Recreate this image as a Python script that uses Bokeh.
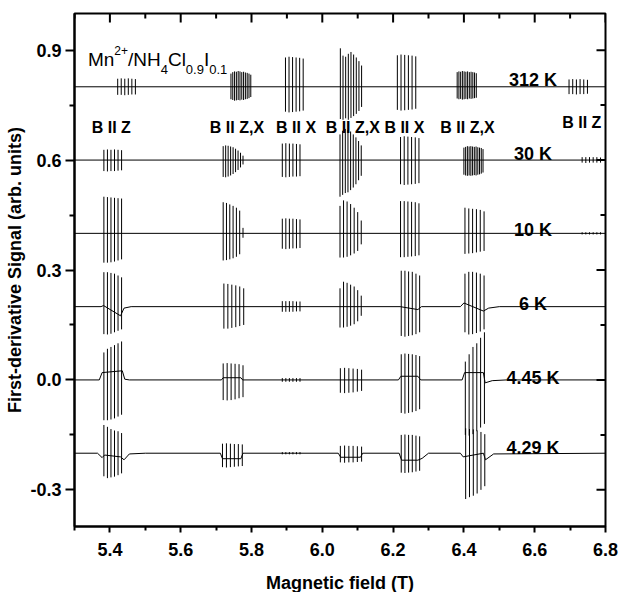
import numpy as np
from bokeh.plotting import figure
from bokeh.models import ColumnDataSource, FixedTicker, Label, PrintfTickFormatter
from bokeh.embed import file_html
from bokeh.resources import INLINE
from bokeh.core.properties import value

# ---------------- data ----------------
TEMPS = ["312 K", "30 K", "10 K", "6 K", "4.45 K", "4.29 K"]
OFFSETS = [0.8, 0.6, 0.4, 0.2, 0.0, -0.2]
ORIENT = ["B II Z", "B II Z,X", "B II X", "B II Z,X", "B II X", "B II Z,X", "B II Z"]
ORIENT_X = [5.404, 5.759, 5.926, 6.086, 6.232, 6.410, 6.733]

X_TICKS = [5.4, 5.6, 5.8, 6.0, 6.2, 6.4, 6.6, 6.8]
X_MINOR = [5.3, 5.5, 5.7, 5.9, 6.1, 6.3, 6.5, 6.7]
Y_TICKS = [-0.3, 0.0, 0.3, 0.6, 0.9]
Y_MINOR = [-0.15, 0.15, 0.45, 0.75]

# field of first hyperfine line of each group (T), per temperature
START_312 = [5.422, 5.742, 5.896, 6.051, 6.212, 6.381, 6.697]
START_30 = [5.383, 5.720, 5.887, 6.050, 6.221, 6.400, 6.734]
START_10 = [5.383, 5.720, 5.887, 6.050, 6.221, 6.403, 6.734]
START_6 = [5.383, 5.722, 5.887, 6.050, 6.223, 6.403, 6.734]
START_445 = [5.383, 5.720, 5.887, 6.051, 6.223, 6.404, 6.734]
START_429 = [5.383, 5.718, 5.887, 6.051, 6.223, 6.405, 6.734]
# width of each group of lines (T)
SPAN = [0.050, 0.056, 0.050, 0.060, 0.052, 0.054, 0.052]

# peak heights above / below each trace's baseline
UP_312 = [[0.022, 0.023, 0.022, 0.023, 0.022, 0.021],
          [0.036, 0.040, 0.042, 0.041, 0.043, 0.042, 0.040, 0.041, 0.039, 0.038, 0.036, 0.033],
          [0.080, 0.082, 0.081, 0.080, 0.079, 0.077],
          [0.105, 0.085, 0.082, 0.090, 0.095, 0.088, 0.080, 0.070, 0.058],
          [0.086, 0.088, 0.087, 0.086, 0.085, 0.083],
          [0.040, 0.042, 0.041, 0.043, 0.042, 0.041, 0.042, 0.040, 0.041, 0.040, 0.039, 0.037],
          [0.020, 0.021, 0.020, 0.021, 0.020, 0.019]]
DOWN_312 = [[0.022, 0.022, 0.023, 0.022, 0.021, 0.021],
            [0.034, 0.036, 0.038, 0.037, 0.036, 0.037, 0.035, 0.036, 0.034, 0.033, 0.031, 0.028],
            [0.068, 0.070, 0.069, 0.068, 0.067, 0.065],
            [0.088, 0.090, 0.086, 0.090, 0.085, 0.080, 0.074, 0.066, 0.055],
            [0.063, 0.065, 0.064, 0.063, 0.062, 0.060],
            [0.032, 0.034, 0.033, 0.035, 0.034, 0.033, 0.034, 0.032, 0.033, 0.032, 0.031, 0.030],
            [0.020, 0.020, 0.021, 0.020, 0.020, 0.019]]

UP_30 = [[0.028, 0.029, 0.028, 0.029, 0.028, 0.027],
         [0.038, 0.040, 0.039, 0.037, 0.035, 0.031, 0.026, 0.020, 0.012],
         [0.045, 0.046, 0.045, 0.045, 0.044, 0.043],
         [0.070, 0.080, 0.085, 0.082, 0.078, 0.070, 0.062, 0.052, 0.040],
         [0.063, 0.065, 0.064, 0.063, 0.062, 0.060],
         [0.034, 0.036, 0.038, 0.037, 0.038, 0.037, 0.036, 0.037, 0.035, 0.034, 0.033, 0.030],
         [0.008, 0.008, 0.008, 0.008, 0.008, 0.007]]
DOWN_30 = [[0.030, 0.031, 0.030, 0.030, 0.029, 0.028],
           [0.046, 0.047, 0.045, 0.042, 0.038, 0.033, 0.027, 0.020, 0.012],
           [0.046, 0.047, 0.046, 0.045, 0.045, 0.044],
           [0.100, 0.095, 0.090, 0.088, 0.082, 0.075, 0.066, 0.055, 0.043],
           [0.066, 0.068, 0.067, 0.066, 0.065, 0.063],
           [0.040, 0.042, 0.043, 0.042, 0.043, 0.042, 0.041, 0.042, 0.040, 0.039, 0.037, 0.034],
           [0.007, 0.008, 0.007, 0.007, 0.007, 0.007]]

UP_10 = [[0.100, 0.099, 0.098, 0.097, 0.096, 0.095],
         [0.085, 0.083, 0.079, 0.075, 0.070, 0.062, 0.015],
         [0.040, 0.041, 0.040, 0.040, 0.039, 0.038],
         [0.075, 0.090, 0.087, 0.080, 0.070, 0.058, 0.035],
         [0.088, 0.088, 0.087, 0.086, 0.085, 0.082],
         [0.070, 0.068, 0.067, 0.066, 0.064, 0.060],
         [0.003, 0.003, 0.003, 0.003, 0.003, 0.003]]
DOWN_10 = [[0.080, 0.080, 0.079, 0.077, 0.074, 0.071],
           [0.074, 0.073, 0.071, 0.068, 0.064, 0.057, 0.012],
           [0.042, 0.043, 0.042, 0.041, 0.041, 0.040],
           [0.066, 0.066, 0.064, 0.060, 0.055, 0.048, 0.030],
           [0.065, 0.065, 0.064, 0.063, 0.062, 0.060],
           [0.056, 0.055, 0.054, 0.052, 0.050, 0.048],
           [0.003, 0.003, 0.003, 0.003, 0.003, 0.003]]

UP_6 = [[0.094, 0.094, 0.092, 0.090, 0.085, 0.080],
        [0.063, 0.062, 0.060, 0.058, 0.055, 0.050],
        [0.015, 0.015, 0.015, 0.015, 0.014, 0.014],
        [0.050, 0.068, 0.065, 0.060, 0.055, 0.045, 0.030],
        [0.098, 0.098, 0.096, 0.095, 0.090, 0.085],
        [0.090, 0.095, 0.095, 0.093, 0.090, 0.085],
        [0.000, 0.000, 0.000, 0.000, 0.000, 0.000]]
DOWN_6 = [[0.075, 0.076, 0.074, 0.070, 0.066, 0.062],
          [0.060, 0.060, 0.058, 0.056, 0.053, 0.050],
          [0.014, 0.014, 0.014, 0.014, 0.013, 0.013],
          [0.057, 0.057, 0.055, 0.052, 0.048, 0.040, 0.025],
          [0.080, 0.082, 0.080, 0.078, 0.075, 0.070],
          [0.070, 0.076, 0.075, 0.072, 0.068, 0.062],
          [0.000, 0.000, 0.000, 0.000, 0.000, 0.000]]

UP_445 = [[0.075, 0.085, 0.090, 0.095, 0.100, 0.105],
          [0.045, 0.046, 0.045, 0.044, 0.043, 0.040],
          [0.005, 0.005, 0.005, 0.005, 0.005, 0.005],
          [0.032, 0.033, 0.032, 0.031, 0.030, 0.028],
          [0.070, 0.072, 0.071, 0.070, 0.068, 0.065],
          [0.050, 0.070, 0.090, 0.100, 0.115, 0.130],
          [0.000, 0.000, 0.000, 0.000, 0.000, 0.000]]
DOWN_445 = [[0.110, 0.110, 0.108, 0.105, 0.100, 0.095],
            [0.055, 0.056, 0.055, 0.053, 0.050, 0.047],
            [0.005, 0.005, 0.005, 0.005, 0.005, 0.005],
            [0.035, 0.036, 0.035, 0.034, 0.032, 0.030],
            [0.090, 0.092, 0.090, 0.088, 0.085, 0.080],
            [0.150, 0.152, 0.148, 0.140, 0.130, 0.120],
            [0.000, 0.000, 0.000, 0.000, 0.000, 0.000]]

UP_429 = [[0.077, 0.072, 0.066, 0.062, 0.060, 0.055],
          [0.026, 0.027, 0.026, 0.025, 0.025, 0.024],
          [0.003, 0.003, 0.003, 0.003, 0.003, 0.003],
          [0.020, 0.021, 0.020, 0.020, 0.019, 0.018],
          [0.050, 0.051, 0.050, 0.050, 0.048, 0.046],
          [0.068, 0.066, 0.065, 0.062, 0.058, 0.052],
          [0.000, 0.000, 0.000, 0.000, 0.000, 0.000]]
DOWN_429 = [[0.063, 0.068, 0.066, 0.064, 0.060, 0.055],
            [0.038, 0.039, 0.038, 0.037, 0.036, 0.035],
            [0.003, 0.003, 0.003, 0.003, 0.003, 0.003],
            [0.025, 0.026, 0.025, 0.025, 0.024, 0.023],
            [0.053, 0.054, 0.053, 0.052, 0.050, 0.048],
            [0.125, 0.120, 0.116, 0.110, 0.100, 0.090],
            [0.000, 0.000, 0.000, 0.000, 0.000, 0.000]]

# broad background under the sharp lines (field, shift from baseline)
BGX_312 = [5.30, 6.80]
BGY_312 = [0.0, 0.0]
BGX_30 = [5.30, 6.80]
BGY_30 = [0.0, 0.0]
BGX_10 = [5.30, 6.80]
BGY_10 = [0.0, 0.0]
BGX_6 = [5.30, 5.375, 5.382, 5.430, 5.440, 5.460, 6.220, 6.270, 6.280, 6.390, 6.400, 6.455, 6.470, 6.500, 6.80]
BGY_6 = [0.0, 0.0, 0.003, -0.025, -0.004, 0.0, 0.0, -0.008, 0.0, 0.0, 0.010, -0.012, -0.004, 0.0, 0.0]
BGX_445 = [5.30, 5.370, 5.378, 5.435, 5.442, 5.455, 5.715, 5.720, 5.770, 5.775,
           6.215, 6.222, 6.270, 6.278, 6.395, 6.402, 6.455, 6.460, 6.480, 6.520, 6.80]
BGY_445 = [0.0, 0.0, 0.020, 0.025, 0.002, 0.0, 0.0, 0.006, 0.006, 0.0,
           0.0, 0.010, 0.010, 0.0, 0.0, 0.020, 0.020, -0.008, -0.002, 0.0, 0.0]
BGX_429 = [5.30, 5.365, 5.378, 5.385, 5.430, 5.440, 5.455, 5.500, 5.712, 5.718, 5.770, 5.776,
           6.045, 6.052, 6.108, 6.114, 6.217, 6.224, 6.270, 6.282, 6.300, 6.390, 6.398, 6.455, 6.461, 6.484, 6.80]
BGY_429 = [0.0, 0.0, -0.012, -0.005, -0.010, -0.018, -0.002, 0.0, 0.0, -0.015, -0.015, 0.0,
           0.0, -0.011, -0.011, 0.0, 0.0, -0.019, -0.019, -0.014, 0.0, 0.0, -0.010, 0.0, -0.018, -0.002, 0.0]

STARTS = [START_312, START_30, START_10, START_6, START_445, START_429]
UPS = [UP_312, UP_30, UP_10, UP_6, UP_445, UP_429]
DOWNS = [DOWN_312, DOWN_30, DOWN_10, DOWN_6, DOWN_445, DOWN_429]
BGX = [BGX_312, BGX_30, BGX_10, BGX_6, BGX_445, BGX_429]
BGY = [BGY_312, BGY_30, BGY_10, BGY_6, BGY_445, BGY_429]

# ---------------- figure ----------------
FONT = "Liberation Sans"
X0, X1, Y0, Y1 = 5.3, 6.8, -0.4, 1.0
p = figure(frame_width=531, frame_height=513, x_range=(X0, X1), y_range=(Y0, Y1),
           output_backend="svg", toolbar_location=None,
           min_border_left=74, min_border_right=14, min_border_top=13, min_border_bottom=66)
p.xgrid.visible = False
p.ygrid.visible = False
p.outline_line_color = "black"
p.outline_line_width = 2
p.background_fill_color = "white"

# traces
for k in range(len(TEMPS)):
    base = OFFSETS[k]
    p.line(BGX[k], [base + d for d in BGY[k]], line_color="black", line_width=1)
    xs, y0, y1 = [], [], []
    for g in range(len(SPAN)):
        up = UPS[k][g]
        dn = DOWNS[k][g]
        n = len(up)
        pos = STARTS[k][g] + SPAN[g] * np.arange(n) / (n - 1)
        for i in range(n):
            if up[i] == 0 and dn[i] == 0:
                continue
            xs.append(pos[i])
            y0.append(base + up[i])
            y1.append(base - dn[i])
    src = ColumnDataSource(dict(x=xs, y0=y0, y1=y1))
    p.segment(x0="x", y0="y0", x1="x", y1="y1", source=src, line_color="black", line_width=1)

# mirrored inward ticks on top and right edges
p.ray(x=X_TICKS, y=[Y1] * len(X_TICKS), length=9, length_units="screen", angle=-np.pi / 2,
      line_color="black", line_width=2)
p.ray(x=X_MINOR, y=[Y1] * len(X_MINOR), length=5, length_units="screen", angle=-np.pi / 2,
      line_color="black", line_width=2)
p.ray(x=[X1] * len(Y_TICKS), y=Y_TICKS, length=9, length_units="screen", angle=np.pi,
      line_color="black", line_width=2)
p.ray(x=[X1] * len(Y_MINOR), y=Y_MINOR, length=5, length_units="screen", angle=np.pi,
      line_color="black", line_width=2)

# temperature labels
t_off = [-7, -6, -3, -3, -2, -5]
tsrc = ColumnDataSource(dict(x=[6.595] * len(TEMPS), y=OFFSETS, text=TEMPS, yo=t_off))
p.text(x="x", y="y", text="text", y_offset="yo", source=tsrc, text_font=value(FONT),
       text_font_style="bold", text_font_size="18px", text_align="center",
       text_baseline="alphabetic", text_color="black")

# orientation labels
for i, t in enumerate(ORIENT):
    yy = 0.702 if i == len(ORIENT) - 1 else 0.688
    p.add_layout(Label(x=ORIENT_X[i], y=yy, text=t, text_font=FONT, text_font_style="bold",
                       text_font_size="16px", text_align="center", text_baseline="alphabetic",
                       text_color="black"))

# sample label with sub/superscripts
parts = [("Mn", 0, 0, "19px"), ("2+", 26.4, 9, "12px"), ("/NH", 40.1, 0, "19px"),
         ("4", 72.8, -10, "13px"), ("Cl", 80.0, 0, "19px"), ("0.9", 97.9, -10, "13px"),
         ("I", 116.0, 0, "19px"), ("0.1", 121.3, -10, "13px")]
for txt, dx, dy, fs in parts:
    p.add_layout(Label(x=5.338, y=0.8746, x_offset=dx, y_offset=dy, text=txt, text_font=FONT,
                       text_font_size=fs, text_baseline="alphabetic", text_color="black"))

# axes
xa = p.xaxis[0]
xa.ticker = FixedTicker(ticks=X_TICKS, minor_ticks=X_MINOR)
xa.formatter = PrintfTickFormatter(format="%.1f")
ya = p.yaxis[0]
ya.ticker = FixedTicker(ticks=Y_TICKS, minor_ticks=Y_MINOR)
ya.formatter = PrintfTickFormatter(format="%.1f")
for ax in (xa, ya):
    ax.axis_line_width = 2
    ax.major_tick_line_width = 2
    ax.minor_tick_line_width = 2
    ax.major_tick_in = 0
    ax.minor_tick_in = 0
    ax.major_label_text_font = FONT
    ax.major_label_text_font_style = "bold"
    ax.major_label_text_font_size = "18px"
    ax.axis_label_text_font = FONT
    ax.axis_label_text_font_style = "bold"
    ax.axis_label_text_font_size = "18px"
    ax.axis_label_text_color = "black"
    ax.major_label_text_color = "black"
xa.major_tick_out = 6
xa.minor_tick_out = 4
xa.major_label_standoff = 10
xa.axis_label = "Magnetic field (T)"
xa.axis_label_standoff = 14
ya.major_tick_out = 9
ya.minor_tick_out = 5
ya.major_label_standoff = 4
ya.axis_label = "First-derivative Signal (arb. units)"
ya.axis_label_standoff = 2

open("out.html", "w").write(file_html(p, INLINE))
